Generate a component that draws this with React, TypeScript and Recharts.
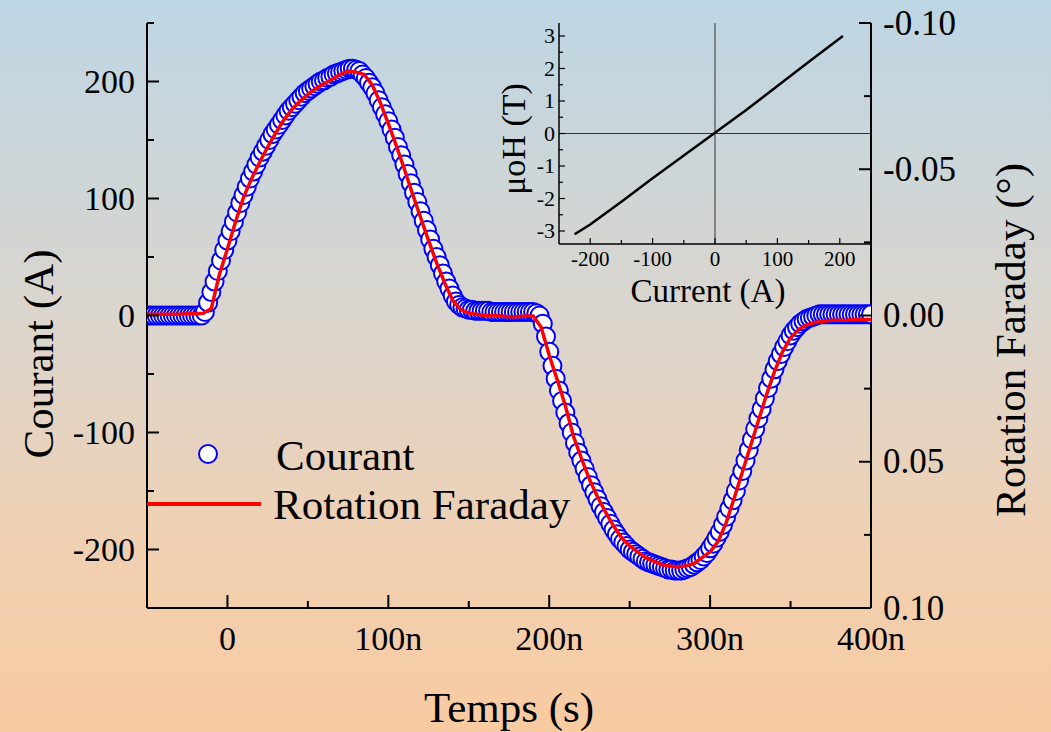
import React from "react";
import {
  ComposedChart,
  LineChart,
  Line,
  Scatter,
  XAxis,
  YAxis,
  ReferenceLine,
} from "recharts";

const FONT = '"Liberation Serif", "Times New Roman", serif';
const W = 1051;
const H = 732;

// Courant (A), one point every 2 ns from -50 ns
const courantStartNs = -50;
const courantStepNs = 2;
const courant = [
  0, 0, 0, 0, 0, 0, 0, 0, 0, 0,
  0, 0, 0, 0, 0, 0, 0, 0, 3, 11,
  20, 29, 38, 47, 56, 64, 72, 80, 88, 96,
  103, 110, 117, 123, 129, 135, 140, 145, 150, 155,
  159, 163, 167, 171, 175, 178, 181, 184, 187, 190,
  192, 194, 196, 198, 200, 201, 203, 204, 206, 207,
  208, 209, 210, 211, 211, 210, 209, 206, 203, 199,
  195, 190, 184, 178, 172, 166, 159, 152, 144, 137,
  129, 121, 113, 105, 97, 89, 81, 73, 65, 57,
  50, 43, 36, 29, 23, 17, 12, 9, 7, 6,
  5, 5, 4, 4, 4, 4, 4, 3, 3, 3,
  3, 3, 3, 3, 3, 3, 3, 3, 3, 3,
  3, 2, 0, -7, -18, -31, -43, -54, -64, -73,
  -83, -92, -100, -109, -117, -124, -131, -138, -145, -151,
  -157, -163, -168, -173, -178, -183, -187, -191, -194, -197,
  -200, -202, -204, -206, -208, -210, -211, -212, -213, -214,
  -215, -216, -217, -217, -218, -218, -218, -217, -216, -215,
  -213, -211, -209, -206, -203, -199, -195, -190, -185, -179,
  -172, -165, -158, -150, -141, -133, -124, -115, -106, -97,
  -88, -80, -71, -62, -54, -46, -39, -33, -27, -22,
  -17, -13, -10, -7, -5, -3, -2, -1, 0, 1,
  1, 1, 1, 1, 1, 1, 1, 1, 1, 1,
  1, 1, 1, 1, 1, 1,
];

// Rotation Faraday (deg), one point every 5 ns from -50 ns
const faradayStartNs = -50;
const faradayStepNs = 5;
const faraday = [
  -0.0004, -0.0004, -0.0004, -0.0004, -0.0004, -0.0006, -0.0006, -0.0008, -0.0024, -0.014,
  -0.0228, -0.032, -0.0404, -0.0468, -0.0524, -0.0576, -0.0624, -0.0668, -0.0704, -0.0732,
  -0.0756, -0.0776, -0.0792, -0.0808, -0.0824, -0.0836, -0.0832, -0.0824, -0.0788, -0.0728,
  -0.0656, -0.058, -0.05, -0.0416, -0.0336, -0.0256, -0.018, -0.0112, -0.0052, -0.002,
  -0.0008, -0.0004, 0, 0, 0.0002, 0.0004, 0.0004, 0.0002, 0.0002, 0.004,
  0.0136, 0.022, 0.0308, 0.0412, 0.0488, 0.056, 0.062, 0.0672, 0.072, 0.076,
  0.0788, 0.0808, 0.0828, 0.084, 0.0852, 0.0856, 0.086, 0.0856, 0.0848, 0.0828,
  0.0808, 0.0772, 0.0708, 0.0624, 0.0536, 0.0448, 0.036, 0.0272, 0.0192, 0.0124,
  0.0076, 0.0048, 0.0032, 0.0024, 0.002, 0.0016, 0.0016, 0.0016, 0.0014, 0.0014,
  0.0014,
];

// inset: champ vs courant
const insetCurrent = [-225, -200, -150, -100, -50, 0, 50, 100, 150, 205];
const insetField = [-3.1, -2.8, -2.1, -1.38, -0.68, 0.02, 0.72, 1.46, 2.2, 3.0];

const timeTicks = [-50, 0, 50, 100, 150, 200, 250, 300, 350, 400];
const timeMajor = [0, 100, 200, 300, 400];
const courantTicks = [-250, -200, -150, -100, -50, 0, 50, 100, 150, 200, 250];
const courantMajor = [-200, -100, 0, 100, 200];
const faradayTicks = [-0.1, -0.075, -0.05, -0.025, 0, 0.025, 0.05, 0.075, 0.1];
const faradayMajor = [-0.1, -0.05, 0, 0.05, 0.1];
const insetXTicks = [-200, -150, -100, -50, 0, 50, 100, 150, 200];
const insetXMajor = [-200, -100, 0, 100, 200];
const insetYTicks = [-3, -2.5, -2, -1.5, -1, -0.5, 0, 0.5, 1, 1.5, 2, 2.5, 3];
const insetYMajor = [-3, -2, -1, 0, 1, 2, 3];

const courantData = courant.map((i, k) => ({ t: courantStartNs + k * courantStepNs, i }));
const faradayData = faraday.map((deg, k) => ({ t: faradayStartNs + k * faradayStepNs, deg }));
const insetData = insetCurrent.map((c, k) => ({ c, b: insetField[k] }));

const fmtTime = (v: number) => (v === 0 ? "0" : `${v}n`);
const fmtNeg = (v: number) => (v < 0 ? `-${Math.abs(v)}` : `${v}`);

const BottomTick = (p: any) => {
  const major = timeMajor.includes(p.payload.value);
  return (
    <g>
      <line x1={p.x} x2={p.x} y1={p.y} y2={p.y - (major ? 13 : 7)} stroke="#000" strokeWidth={2} />
      {major && (
        <text x={p.x} y={p.y + 42} textAnchor="middle" fontSize={34} fontFamily={FONT} fill="#000">
          {fmtTime(p.payload.value)}
        </text>
      )}
    </g>
  );
};

const TopTick = (p: any) => {
  const major = timeMajor.includes(p.payload.value);
  return <line x1={p.x} x2={p.x} y1={p.y} y2={p.y + (major ? 13 : 7)} stroke="#000" strokeWidth={2} />;
};

const LeftTick = (p: any) => {
  const major = courantMajor.includes(p.payload.value);
  return (
    <g>
      <line x1={p.x} x2={p.x + (major ? 12 : 7)} y1={p.y} y2={p.y} stroke="#000" strokeWidth={2} />
      {major && (
        <text x={p.x - 12} y={p.y} dy="0.33em" textAnchor="end" fontSize={34} fontFamily={FONT} fill="#000">
          {fmtNeg(p.payload.value)}
        </text>
      )}
    </g>
  );
};

const RightTick = (p: any) => {
  const major = faradayMajor.includes(p.payload.value);
  return (
    <g>
      <line x1={p.x} x2={p.x - (major ? 12 : 7)} y1={p.y} y2={p.y} stroke="#000" strokeWidth={2} />
      {major && (
        <text x={p.x + 12} y={p.y} dy="0.33em" textAnchor="start" fontSize={35} fontFamily={FONT} fill="#000">
          {p.payload.value.toFixed(2)}
        </text>
      )}
    </g>
  );
};

const InsetBottomTick = (p: any) => {
  const major = insetXMajor.includes(p.payload.value);
  return (
    <g>
      <line x1={p.x} x2={p.x} y1={p.y} y2={p.y - (major ? 6 : 4)} stroke="#000" strokeWidth={1.2} />
      {major && (
        <text x={p.x} y={p.y + 22} textAnchor="middle" fontSize={21} fontFamily={FONT} fill="#000">
          {fmtNeg(p.payload.value)}
        </text>
      )}
    </g>
  );
};

const InsetLeftTick = (p: any) => {
  const major = insetYMajor.includes(p.payload.value);
  return (
    <g>
      <line x1={p.x} x2={p.x + (major ? 6 : 4)} y1={p.y} y2={p.y} stroke="#000" strokeWidth={1.2} />
      {major && (
        <text x={p.x - 4} y={p.y} dy="0.33em" textAnchor="end" fontSize={22} fontFamily={FONT} fill="#000">
          {fmtNeg(p.payload.value)}
        </text>
      )}
    </g>
  );
};

const Ring = (p: any) => (
  <circle cx={p.cx} cy={p.cy} r={9} fill="#fff" stroke="#0000ff" strokeWidth={2} />
);

const axisStyle = { stroke: "#000", strokeWidth: 2 };

export default function App() {
  return (
    <div
      style={{
        position: "fixed",
        left: 0,
        top: 0,
        width: W,
        height: H,
        background: "linear-gradient(to bottom, #bdd6e4 0%, #dcd5cc 45%, #f0d0b2 75%, #f9cba1 100%)",
        fontFamily: FONT,
      }}
    >
      <div style={{ position: "absolute", left: 0, top: 0 }}>
        <ComposedChart width={W} height={H} margin={{ top: 23, right: 0, bottom: 0, left: 0 }}>
          <XAxis
            xAxisId="b"
            type="number"
            dataKey="t"
            domain={[-50, 400]}
            allowDataOverflow
            ticks={timeTicks}
            tick={<BottomTick />}
            tickLine={false}
            tickSize={0}
            tickMargin={0}
            axisLine={axisStyle}
            height={124}
            interval={0}
            label={{
              content: () => (
                <text x={509} y={722} textAnchor="middle" fontSize={43} fontFamily={FONT} fill="#000">
                  Temps (s)
                </text>
              ),
            }}
          />
          <XAxis
            xAxisId="top"
            orientation="top"
            type="number"
            domain={[-50, 400]}
            allowDataOverflow
            ticks={timeTicks}
            tick={<TopTick />}
            tickLine={false}
            tickSize={0}
            tickMargin={0}
            axisLine={axisStyle}
            height={0}
            interval={0}
          />
          <YAxis
            yAxisId="l"
            type="number"
            dataKey="i"
            domain={[-250, 250]}
            allowDataOverflow
            ticks={courantTicks}
            tick={<LeftTick />}
            tickLine={false}
            tickSize={0}
            tickMargin={0}
            axisLine={axisStyle}
            width={147}
            interval={0}
            label={{
              content: () => (
                <text
                  x={53}
                  y={354}
                  transform="rotate(-90 53 354)"
                  textAnchor="middle"
                  fontSize={43}
                  fontFamily={FONT}
                  fill="#000"
                >
                  Courant (A)
                </text>
              ),
            }}
          />
          <YAxis
            yAxisId="r"
            orientation="right"
            type="number"
            dataKey="deg"
            domain={[-0.1, 0.1]}
            reversed
            allowDataOverflow
            ticks={faradayTicks}
            tick={<RightTick />}
            tickLine={false}
            tickSize={0}
            tickMargin={0}
            axisLine={axisStyle}
            width={180}
            interval={0}
            label={{
              content: () => (
                <text
                  x={1025}
                  y={340}
                  transform="rotate(-90 1025 340)"
                  textAnchor="middle"
                  fontSize={43}
                  fontFamily={FONT}
                  fill="#000"
                >
                  Rotation Faraday (°)
                </text>
              ),
            }}
          />
          <Scatter
            name="Courant"
            data={courantData}
            xAxisId="b"
            yAxisId="l"
            dataKey="i"
            shape={<Ring />}
            isAnimationActive={false}
          />
          <Line
            name="Rotation Faraday"
            data={faradayData}
            xAxisId="b"
            yAxisId="r"
            dataKey="deg"
            type="linear"
            stroke="#ff0000"
            strokeWidth={3.5}
            dot={false}
            activeDot={false}
            isAnimationActive={false}
            zIndex={700}
          />
        </ComposedChart>
      </div>

      {/* encart */}
      <div style={{ position: "absolute", left: 459, top: 0 }}>
        <LineChart width={432} height={320} data={insetData} margin={{ top: 23, right: 20, bottom: 0, left: 0 }}>
          <XAxis
            type="number"
            dataKey="c"
            domain={[-250, 250]}
            allowDataOverflow
            ticks={insetXTicks}
            tick={<InsetBottomTick />}
            tickLine={false}
            tickSize={0}
            tickMargin={0}
            axisLine={{ stroke: "#000", strokeWidth: 1.5 }}
            height={76}
            interval={0}
            label={{
              content: () => (
                <text x={249} y={302} textAnchor="middle" fontSize={33} fontFamily={FONT} fill="#000">
                  Current (A)
                </text>
              ),
            }}
          />
          <YAxis
            type="number"
            dataKey="b"
            domain={[-3.4, 3.4]}
            allowDataOverflow
            ticks={insetYTicks}
            tick={<InsetLeftTick />}
            tickLine={false}
            tickSize={0}
            tickMargin={0}
            axisLine={{ stroke: "#000", strokeWidth: 1.5 }}
            width={100}
            interval={0}
            label={{
              content: () => (
                <text
                  x={66}
                  y={139}
                  transform="rotate(-90 66 139)"
                  textAnchor="middle"
                  fontSize={34}
                  fontFamily={FONT}
                  fill="#000"
                >
                  μoH (T)
                </text>
              ),
            }}
          />
          <ReferenceLine x={0} stroke="#333" strokeWidth={1} />
          <ReferenceLine y={0} stroke="#333" strokeWidth={1} />
          <Line
            dataKey="b"
            type="linear"
            stroke="#000"
            strokeWidth={2.5}
            dot={false}
            activeDot={false}
            isAnimationActive={false}
          />
        </LineChart>
      </div>

      {/* légende */}
      <svg
        width={W}
        height={H}
        style={{ position: "absolute", left: 0, top: 0, pointerEvents: "none" }}
      >
        <circle cx={208} cy={454} r={9} fill="#fff" stroke="#0000ff" strokeWidth={2} />
        <text x={276} y={470} fontSize={43} fontFamily={FONT} fill="#000">
          Courant
        </text>
        <line x1={147} x2={261} y1={504} y2={504} stroke="#ff0000" strokeWidth={4} />
        <text x={273} y={519} fontSize={43} fontFamily={FONT} fill="#000">
          Rotation Faraday
        </text>
      </svg>
    </div>
  );
}
